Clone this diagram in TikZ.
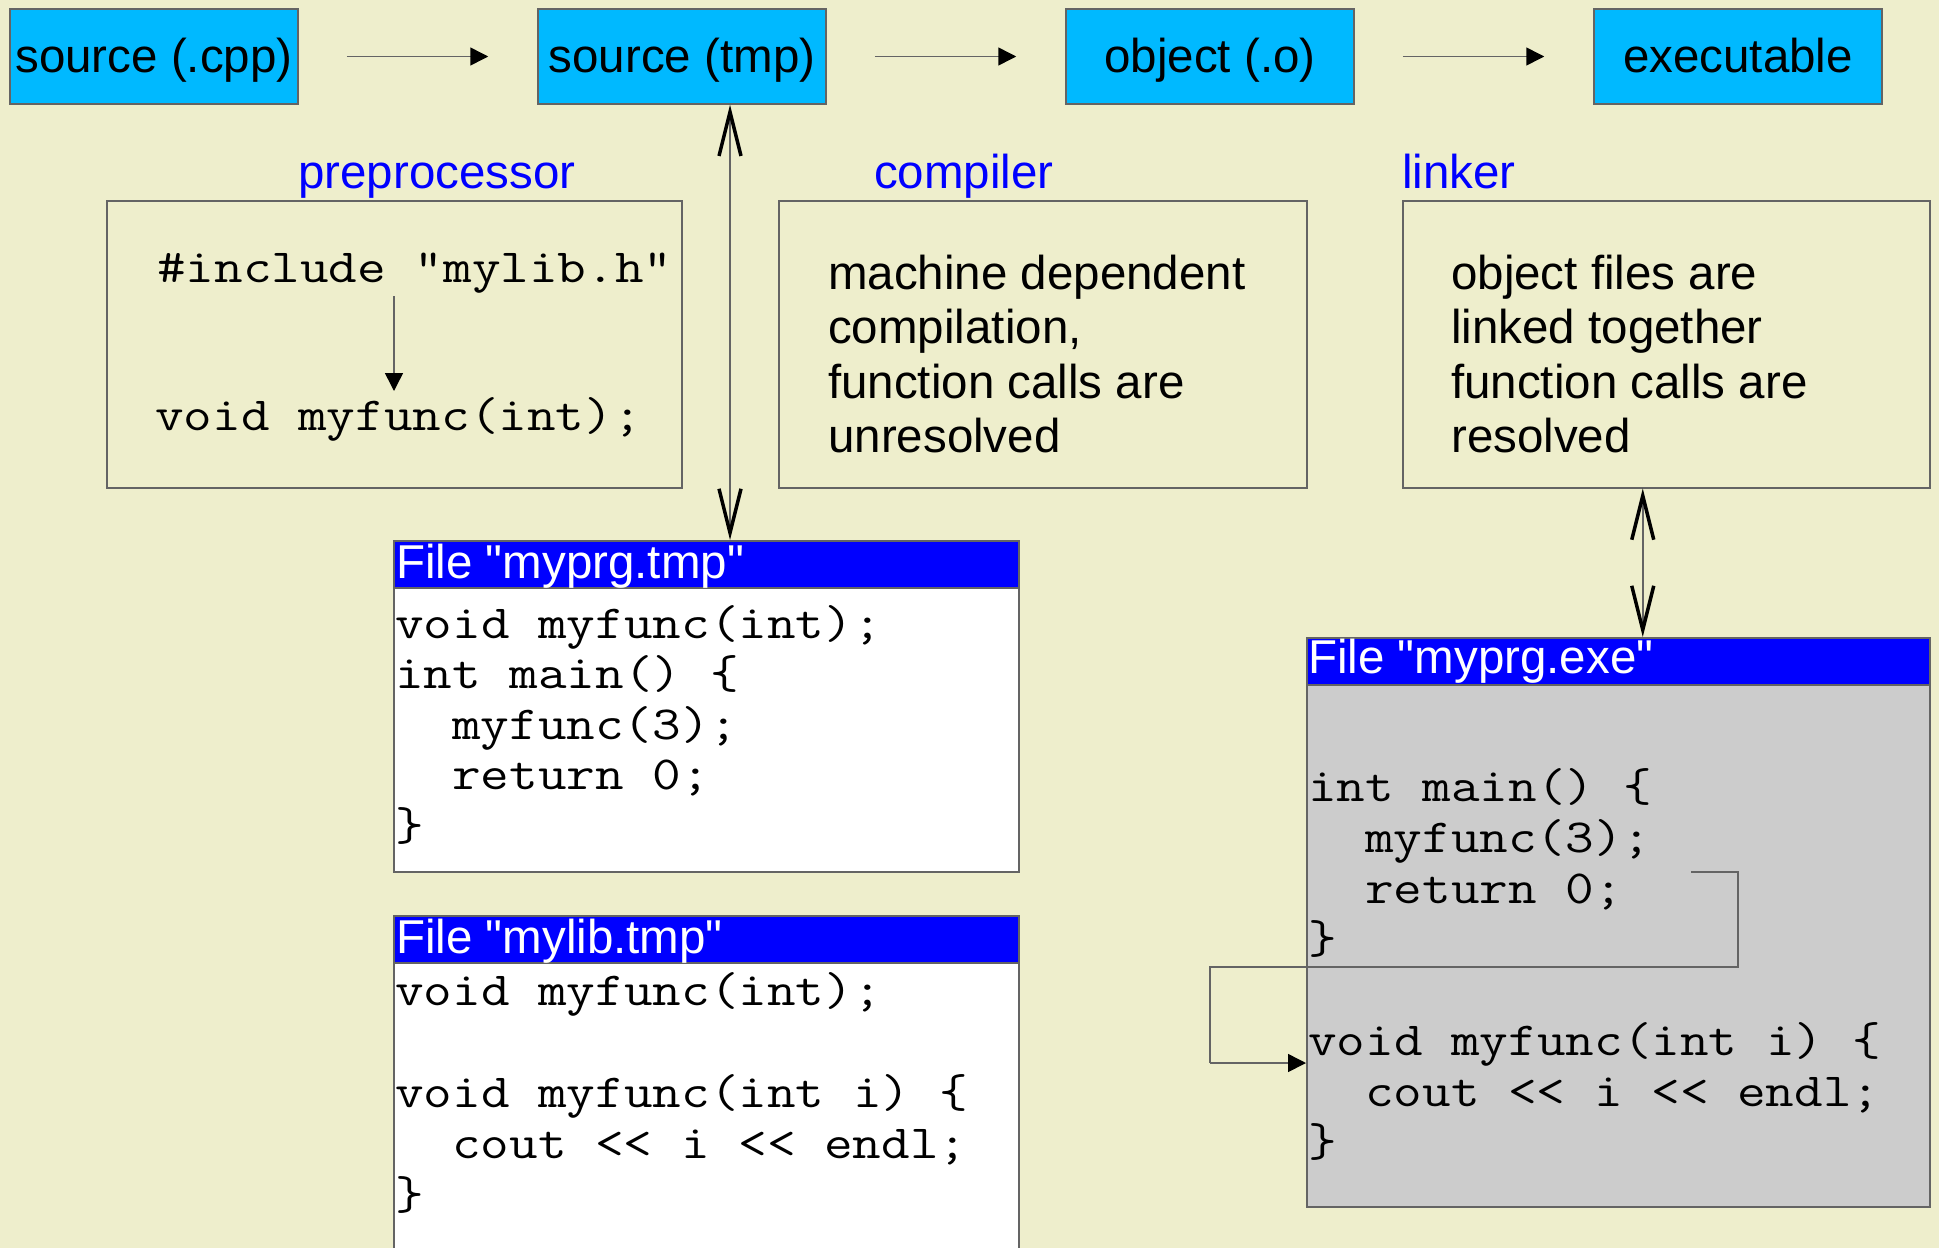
\documentclass[tikz,border=0pt]{standalone}
\usepackage{fontspec}
\setmainfont{Liberation Sans}[Ligatures=TeXOff]
\newfontfamily\codefont[FakeStretch=1.17]{Latin Modern Mono}
\usetikzlibrary{arrows.meta}
\definecolor{bg}{RGB}{238,238,204}
\definecolor{cyanbox}{RGB}{0,185,255}
\definecolor{hdrblue}{RGB}{0,0,255}
\definecolor{edgegray}{RGB}{100,100,100}
\definecolor{exegray}{RGB}{204,204,204}
\tikzset{
  topbox/.style={draw=edgegray, line width=1.5pt, fill=cyanbox, minimum width=288pt, minimum height=95pt, inner sep=0pt,
    font=\fontsize{47.5}{54}\selectfont, text height=40pt, text depth=9pt},
  procbox/.style={draw=edgegray, line width=1.5pt, anchor=north west, inner sep=0pt, minimum height=287pt},
  hdrbox/.style={draw=edgegray, line width=1.5pt, fill=hdrblue, anchor=north west, inner sep=0pt, minimum height=47pt},
  bodybox/.style={draw=edgegray, line width=1.5pt, anchor=north west, inner sep=0pt},
  lbl/.style={text=hdrblue, anchor=base west, inner sep=0pt, font=\fontsize{47.5}{54}\selectfont},
  sline/.style={anchor=base west, inner sep=0pt, font=\fontsize{47.5}{54}\selectfont},
  ttl/.style={text=white, anchor=base west, inner sep=0pt, font=\fontsize{47.5}{54}\selectfont},
  cline/.style={anchor=base west, inner sep=0pt, font=\codefont\fontsize{47.5}{50}\selectfont},
  flow/.style={draw=edgegray, line width=1.5pt, -{Triangle[length=18pt, width=18pt, color=black]}},
  dbl/.style={draw=edgegray, line width=1.5pt, {Straight Barb[length=44pt, width=22pt, line width=3.5pt, color=black]}-{Straight Barb[length=44pt, width=22pt, line width=3.5pt, color=black]}},
  plain/.style={draw=edgegray, line width=1.5pt}
}
\begin{document}
\begin{tikzpicture}[x=1pt, y=-1pt]
\useasboundingbox (0,0) rectangle (1939,1248);
\clip (0,0) rectangle (1939,1248);
\fill[bg] (0,0) rectangle (1939,1248);

% top boxes
\node[topbox] (cpp) at (154,56.5) {source (.cpp)};
\node[topbox] (tmp) at (682,56.5) {source (tmp)};
\node[topbox] (obj) at (1210,56.5) {object (.o)};
\node[topbox] (exe) at (1738,56.5) {executable};
\draw[flow] ([xshift=48pt]cpp.east) -- ([xshift=-49pt]tmp.west);
\draw[flow] ([xshift=48pt]tmp.east) -- ([xshift=-49pt]obj.west);
\draw[flow] ([xshift=48pt]obj.east) -- ([xshift=-49pt]exe.west);

% labels
\node[lbl] (lpre) at (298,188) {preprocessor};
\node[lbl] (lcomp) at (874,188) {compiler};
\node[lbl] (llink) at (1402,188) {linker};

% process boxes
\node[procbox, minimum width=575pt] (prebox) at (106,200) {};
\node[procbox, minimum width=528pt] (compbox) at (778,200) {};
\node[procbox, minimum width=527pt] (linkbox) at (1402,200) {};

\node[cline] (inc) at (157,282) {\#include "mylib.h"};
\node[cline] (decl) at (155,430) {void myfunc(int);};
\coordinate (pa) at (394,296);
\coordinate (pb) at (394,391);
\draw[flow] (pa) -- (pb);

\node[sline] (c1) at (828,289) {machine dependent};
\node[sline] (c2) at (828,343) {compilation,};
\node[sline] (c3) at (828,398) {function calls are};
\node[sline] (c4) at (828,452) {unresolved};

\node[sline] (k1) at (1451,289) {object files are};
\node[sline] (k2) at (1451,343) {linked together};
\node[sline] (k3) at (1451,398) {function calls are};
\node[sline] (k4) at (1451,452) {resolved};

% File myprg.tmp
\node[bodybox, fill=white, minimum width=625pt, minimum height=284pt] (tmpbody) at (393,587) {};
\node[hdrbox, minimum width=625pt] (tmphdr) at (393,540) {};
\node[ttl] (tmpttl) at (396,578) {File "myprg.tmp"};
\node[cline] (t1) at (395,638) {void myfunc(int);};
\node[cline] (t2) at (395,688) {int main() \{};
\node[cline] (t3) at (452,739) {myfunc(3);};
\node[cline] (t4) at (452,789) {return 0;};
\node[cline] (t5) at (395,840) {\}};

% File mylib.tmp
\node[bodybox, fill=white, minimum width=625pt, minimum height=320pt] (libbody) at (393,962) {};
\node[hdrbox, minimum width=625pt] (libhdr) at (393,915) {};
\node[ttl] (libttl) at (396,953) {File "mylib.tmp"};
\node[cline] (l1) at (395,1005) {void myfunc(int);};
\node[cline] (l2) at (395,1107) {void myfunc(int i) \{};
\node[cline] (l3) at (452,1158) {cout << i << endl;};
\node[cline] (l4) at (395,1209) {\}};

% File myprg.exe
\node[bodybox, fill=exegray, minimum width=623pt, minimum height=522pt] (exebody) at (1306,684) {};
\node[hdrbox, minimum width=623pt] (exehdr) at (1306,637) {};
\node[ttl] (exettl) at (1308,673) {File "myprg.exe"};
\node[cline] (e1) at (1308,801) {int main() \{};
\node[cline] (e2) at (1365,852) {myfunc(3);};
\node[cline] (e3) at (1365,903) {return 0;};
\node[cline] (e4) at (1308,953) {\}};
\node[cline] (e5) at (1308,1055) {void myfunc(int i) \{};
\node[cline] (e6) at (1365,1106) {cout << i << endl;};
\node[cline] (e7) at (1308,1156) {\}};

% double arrows
\draw[dbl] ([xshift=48pt]tmp.south) -- ([xshift=48pt]tmp.south |- tmphdr.north);
\draw[dbl] ([xshift=-23.5pt]linkbox.south) -- ([xshift=-23.5pt]linkbox.south |- exehdr.north);

% call connector in exe
\coordinate (cs) at (1691,872);
\coordinate (ce) at (1306,1063);
\draw[plain] (cs) -- (1738,872) -- (1738,967) -- (1210,967) -- (1210,1063);
\draw[flow] (1210,1063) -- (ce);
\end{tikzpicture}
\end{document}
